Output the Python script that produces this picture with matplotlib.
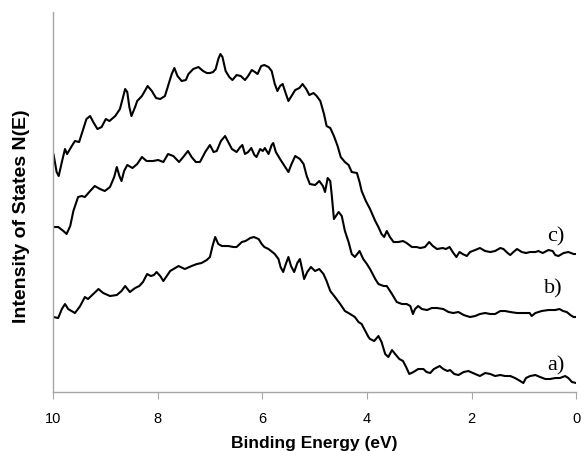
import numpy as np
import matplotlib
matplotlib.use("Agg")
import matplotlib.pyplot as plt

# ── Data ─────────────────────────────────────────────────────────────────────

energy_c = [9.99, 9.93, 9.89, 9.83, 9.77, 9.73, 9.64, 9.58, 9.50, 9.42, 9.36, 9.29,
            9.23, 9.15, 9.07, 8.99, 8.92, 8.81, 8.72, 8.67, 8.62, 8.58, 8.54, 8.50,
            8.43, 8.39, 8.30, 8.19, 8.11, 8.03, 7.95, 7.86, 7.80, 7.73, 7.68, 7.62,
            7.54, 7.46, 7.41, 7.32, 7.22, 7.13, 7.06, 7.00, 6.94, 6.89, 6.84, 6.80,
            6.76, 6.70, 6.63, 6.57, 6.49, 6.41, 6.33, 6.27, 6.20, 6.14, 6.09, 6.02,
            5.96, 5.88, 5.82, 5.76, 5.71, 5.66, 5.61, 5.56, 5.50, 5.44, 5.37, 5.29,
            5.23, 5.16, 5.10, 5.02, 4.96, 4.89, 4.82, 4.77, 4.70, 4.63, 4.56, 4.50,
            4.42, 4.35, 4.29, 4.19, 4.14, 4.10, 4.02, 3.94, 3.84, 3.78, 3.72, 3.67,
            3.62, 3.56, 3.49, 3.40, 3.31, 3.24, 3.14, 3.05, 2.98, 2.89, 2.81, 2.74,
            2.66, 2.55, 2.49, 2.42, 2.36, 2.29, 2.23, 2.17, 2.09, 2.03, 1.93, 1.84,
            1.74, 1.64, 1.55, 1.45, 1.39, 1.31, 1.26, 1.20, 1.13, 1.04, 0.96, 0.88,
            0.78, 0.72, 0.64, 0.53, 0.45, 0.40, 0.34, 0.24, 0.15, 0.05, 0.00]
intensity_c = [2.38, 2.20, 2.16, 2.30, 2.43, 2.38, 2.46, 2.51, 2.50, 2.63, 2.73, 2.76,
               2.70, 2.63, 2.65, 2.73, 2.71, 2.76, 2.83, 2.93, 3.03, 3.00, 2.85, 2.76,
               2.85, 2.91, 2.96, 3.06, 3.01, 2.94, 2.93, 2.96, 3.06, 3.18, 3.24, 3.16,
               3.11, 3.12, 3.18, 3.23, 3.25, 3.21, 3.19, 3.19, 3.20, 3.23, 3.33, 3.38,
               3.35, 3.21, 3.15, 3.12, 3.17, 3.16, 3.12, 3.16, 3.22, 3.20, 3.18, 3.26,
               3.27, 3.25, 3.21, 3.08, 3.01, 3.06, 3.08, 3.00, 2.91, 2.96, 3.02, 3.04,
               3.08, 3.03, 2.97, 2.99, 2.96, 2.91, 2.78, 2.66, 2.64, 2.56, 2.46, 2.35,
               2.30, 2.27, 2.20, 2.19, 2.10, 2.01, 1.91, 1.83, 1.71, 1.65, 1.58, 1.55,
               1.61, 1.55, 1.50, 1.50, 1.51, 1.49, 1.45, 1.45, 1.44, 1.45, 1.50, 1.46,
               1.43, 1.44, 1.43, 1.45, 1.40, 1.35, 1.40, 1.38, 1.36, 1.40, 1.42, 1.44,
               1.41, 1.40, 1.41, 1.44, 1.43, 1.39, 1.37, 1.40, 1.43, 1.40, 1.39, 1.40,
               1.40, 1.41, 1.39, 1.42, 1.41, 1.37, 1.36, 1.39, 1.40, 1.38, 1.38]

energy_b = [9.99, 9.90, 9.80, 9.74, 9.67, 9.61, 9.52, 9.45, 9.39, 9.29, 9.20, 9.10,
            9.01, 8.91, 8.83, 8.78, 8.73, 8.69, 8.64, 8.58, 8.48, 8.39, 8.30, 8.21,
            8.09, 7.99, 7.89, 7.80, 7.70, 7.59, 7.51, 7.42, 7.35, 7.27, 7.19, 7.09,
            7.00, 6.93, 6.87, 6.79, 6.71, 6.65, 6.58, 6.49, 6.42, 6.38, 6.33, 6.27,
            6.21, 6.15, 6.11, 6.04, 5.99, 5.95, 5.88, 5.82, 5.79, 5.74, 5.66, 5.56,
            5.50, 5.44, 5.37, 5.28, 5.21, 5.15, 5.09, 4.99, 4.91, 4.84, 4.80, 4.75,
            4.70, 4.67, 4.63, 4.54, 4.48, 4.42, 4.35, 4.29, 4.23, 4.14, 4.07, 4.00,
            3.94, 3.84, 3.78, 3.68, 3.62, 3.52, 3.43, 3.33, 3.24, 3.17, 3.12, 3.08,
            3.02, 2.95, 2.85, 2.76, 2.66, 2.54, 2.44, 2.35, 2.25, 2.15, 2.03, 1.93,
            1.84, 1.74, 1.64, 1.55, 1.45, 1.36, 1.26, 1.13, 1.01, 0.89, 0.85, 0.78,
            0.66, 0.53, 0.40, 0.32, 0.25, 0.18, 0.11, 0.05, 0.00]
intensity_b = [1.65, 1.65, 1.61, 1.58, 1.66, 1.81, 1.95, 1.96, 1.95, 2.01, 2.06, 2.03,
               2.01, 2.05, 2.15, 2.25, 2.16, 2.11, 2.21, 2.27, 2.24, 2.28, 2.35, 2.31,
               2.31, 2.32, 2.30, 2.38, 2.36, 2.30, 2.35, 2.41, 2.35, 2.30, 2.30, 2.40,
               2.47, 2.40, 2.41, 2.51, 2.56, 2.50, 2.43, 2.40, 2.45, 2.47, 2.38, 2.40,
               2.44, 2.37, 2.35, 2.43, 2.41, 2.44, 2.38, 2.47, 2.49, 2.40, 2.33, 2.25,
               2.20, 2.28, 2.36, 2.33, 2.28, 2.16, 2.08, 2.07, 2.11, 2.06, 2.00, 2.14,
               2.11, 1.96, 1.73, 1.80, 1.76, 1.61, 1.50, 1.38, 1.35, 1.41, 1.33, 1.28,
               1.23, 1.13, 1.08, 1.06, 1.06, 0.98, 0.90, 0.88, 0.88, 0.86, 0.78, 0.83,
               0.86, 0.83, 0.82, 0.84, 0.84, 0.83, 0.80, 0.79, 0.80, 0.77, 0.75, 0.76,
               0.78, 0.79, 0.78, 0.78, 0.81, 0.81, 0.80, 0.79, 0.79, 0.79, 0.76, 0.79,
               0.81, 0.82, 0.82, 0.83, 0.81, 0.80, 0.77, 0.75, 0.75]

energy_a = [9.99, 9.90, 9.83, 9.77, 9.71, 9.58, 9.48, 9.39, 9.33, 9.23, 9.13, 9.04,
            8.91, 8.78, 8.69, 8.62, 8.53, 8.43, 8.35, 8.28, 8.20, 8.13, 8.07, 8.02,
            7.95, 7.89, 7.76, 7.60, 7.48, 7.35, 7.25, 7.16, 7.06, 7.00, 6.95, 6.90,
            6.84, 6.77, 6.65, 6.55, 6.49, 6.39, 6.32, 6.23, 6.16, 6.07, 6.01, 5.96,
            5.88, 5.76, 5.69, 5.65, 5.60, 5.55, 5.50, 5.45, 5.39, 5.33, 5.28, 5.23,
            5.20, 5.14, 5.07, 4.99, 4.91, 4.83, 4.77, 4.70, 4.61, 4.51, 4.42, 4.32,
            4.23, 4.16, 4.10, 4.03, 3.97, 3.94, 3.86, 3.78, 3.72, 3.65, 3.59, 3.52,
            3.46, 3.38, 3.31, 3.25, 3.19, 3.11, 3.02, 2.92, 2.86, 2.79, 2.72, 2.61,
            2.54, 2.46, 2.41, 2.33, 2.25, 2.15, 2.06, 1.93, 1.84, 1.74, 1.64, 1.55,
            1.45, 1.36, 1.26, 1.17, 1.07, 1.01, 0.96, 0.88, 0.78, 0.69, 0.59, 0.50,
            0.40, 0.31, 0.21, 0.15, 0.08, 0.00]
intensity_a = [0.75, 0.74, 0.83, 0.88, 0.83, 0.79, 0.86, 0.95, 0.93, 0.98, 1.03, 0.99,
               0.96, 0.97, 1.01, 1.06, 1.00, 1.04, 1.06, 1.10, 1.18, 1.16, 1.17, 1.20,
               1.16, 1.11, 1.21, 1.26, 1.23, 1.26, 1.28, 1.29, 1.32, 1.35, 1.46, 1.55,
               1.48, 1.46, 1.46, 1.45, 1.45, 1.50, 1.51, 1.54, 1.55, 1.53, 1.48, 1.45,
               1.43, 1.38, 1.33, 1.25, 1.20, 1.28, 1.35, 1.26, 1.20, 1.29, 1.33, 1.21,
               1.13, 1.20, 1.25, 1.21, 1.23, 1.18, 1.11, 1.01, 0.95, 0.88, 0.81, 0.78,
               0.75, 0.70, 0.68, 0.61, 0.55, 0.53, 0.51, 0.56, 0.50, 0.38, 0.35, 0.42,
               0.38, 0.33, 0.31, 0.25, 0.18, 0.20, 0.23, 0.23, 0.20, 0.19, 0.23, 0.26,
               0.23, 0.21, 0.22, 0.18, 0.17, 0.20, 0.21, 0.18, 0.16, 0.19, 0.18, 0.16,
               0.17, 0.16, 0.16, 0.14, 0.11, 0.09, 0.14, 0.16, 0.17, 0.15, 0.13, 0.13,
               0.14, 0.14, 0.16, 0.14, 0.10, 0.09]

curve_labels = ["a)", "b)", "c)"]
label_energy = [0.38, 0.44, 0.38]
label_height = [0.27, 1.04, 1.56]

# ── Plot ─────────────────────────────────────────────────────────────────────

plt.rcParams["font.family"] = ["Liberation Sans", "DejaVu Sans"]

fig = plt.figure(figsize=(5.82, 4.52), dpi=100)
ax = fig.add_axes([0.091, 0.1305, 0.899, 0.8407])

for e, i in [(energy_a, intensity_a), (energy_b, intensity_b), (energy_c, intensity_c)]:
    ax.plot(e, i, color="black", lw=1.5, solid_joinstyle="round", solid_capstyle="round")

for lab, x, y in zip(curve_labels, label_energy, label_height):
    ax.text(x, y, lab, family="Liberation Serif", fontsize=16, ha="center", va="center")

ax.set_xlim(10, 0)
ax.set_ylim(0, 3.80)
ax.set_xticks([10, 8, 6, 4, 2, 0])
ax.set_yticks([])

for side in ["top", "right"]:
    ax.spines[side].set_visible(False)
for side in ["left", "bottom"]:
    ax.spines[side].set_color("#a6a6a6")
    ax.spines[side].set_linewidth(1.0)

ax.tick_params(axis="x", direction="out", length=5, color="#a6a6a6",
               labelsize=10.5, pad=9)

# axis titles placed on the figure so the bottom one stays inside the canvas
fig.text(0.5 * (0.091 + 0.990), 0.003, "Binding Energy (eV)", fontsize=12.5,
         fontweight="bold", ha="center", va="bottom")
fig.text(22 / 582, 1 - 216 / 452, "Intensity of States N(E)", fontsize=14,
         fontweight="bold", rotation=90, ha="center", va="center")

fig.savefig("out.png", dpi=100)
